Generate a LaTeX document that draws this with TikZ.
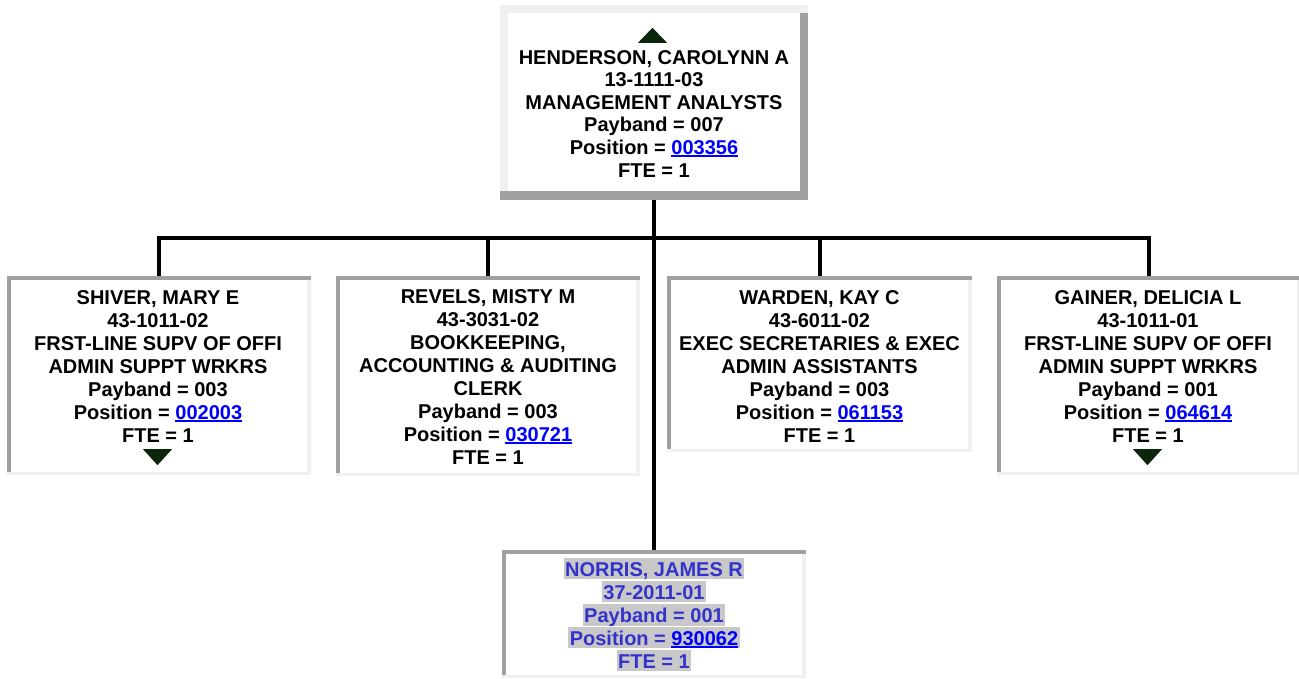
\documentclass[tikz,border=0pt]{standalone}
\usepackage{fontspec}
\setmainfont{Liberation Sans}
\definecolor{lg}{HTML}{F0F0F0}
\definecolor{dg}{HTML}{A0A0A0}
\definecolor{tri}{HTML}{0B260B}
\definecolor{lnkblue}{HTML}{0000FF}
\definecolor{hlgray}{HTML}{C8C8C8}
\definecolor{nblue}{HTML}{3333CC}
\newcommand\lnk[1]{\textcolor{lnkblue}{\setbox0\hbox{#1}\rlap{\rule[-2.6pt]{\wd0}{1.8pt}}\box0}}
\newcommand\hlline[1]{{\setlength\fboxsep{0pt}\colorbox{hlgray}{\rule[-3pt]{0pt}{21pt}\kern1.5pt#1\kern1.5pt}}}
\newcommand\downtri[1]{\fill[tri] ([xshift=-16pt,yshift=26pt]#1.south) -- ([xshift=13pt,yshift=26pt]#1.south) -- ([xshift=-1.5pt,yshift=10pt]#1.south) -- cycle;}
\begin{document}
\begin{tikzpicture}[x=1pt,y=1pt,
  txt/.style={anchor=north, inner sep=0pt, align=center, font=\fontsize{20}{23}\selectfont\bfseries},
  conn/.style={line width=4pt, black},
  raised/.style={rectangle, inner sep=0pt, fill=lg, path picture={
     \fill[dg] ([xshift=-8pt,yshift=-8pt]path picture bounding box.north east) rectangle (path picture bounding box.south east);
     \fill[dg] (path picture bounding box.south west) rectangle ([yshift=9pt]path picture bounding box.south east);
     \fill[white] ([xshift=8pt,yshift=-8pt]path picture bounding box.north west) rectangle ([xshift=-8pt,yshift=9pt]path picture bounding box.south east);}},
  inset/.style={rectangle, inner sep=0pt, fill=lg, path picture={
     \fill[dg] (path picture bounding box.north west) rectangle ([yshift=-4pt]path picture bounding box.north east);
     \fill[dg] (path picture bounding box.north west) rectangle ([xshift=4pt,yshift=3pt]path picture bounding box.south west);
     \fill[white] ([xshift=4pt,yshift=-4pt]path picture bounding box.north west) rectangle ([xshift=-4pt,yshift=3pt]path picture bounding box.south east);}}
]
\useasboundingbox (0,0) rectangle (1299,-679);
\fill[white] (0,0) rectangle (1299,-679);

% boxes
\node[raised, minimum width=308pt, minimum height=195pt] (top) at (654,-102.5) {};
\node[inset, minimum width=304pt, minimum height=199pt] (b1) at (159,-375.5) {};
\node[inset, minimum width=304pt, minimum height=200pt] (b2) at (488,-376) {};
\node[inset, minimum width=305pt, minimum height=176pt] (b3) at (819.5,-364) {};
\node[inset, minimum width=304pt, minimum height=199pt] (b4) at (1149,-375.5) {};
\node[inset, minimum width=304pt, minimum height=128pt] (b5) at (654,-614) {};

% connectors
\coordinate (bus) at (654,-238);
\draw[conn] (top.south) -- (b5.north);
\draw[conn] (b1.north) -- (b1.north |- bus) -- (b4.north |- bus) -- (b4.north);
\draw[conn] (b2.north) -- (b2.north |- bus);
\draw[conn] (b3.north) -- (b3.north |- bus);

% texts
\node[txt, font=\fontsize{20}{22.6}\selectfont\bfseries] (t0) at (654,-50) {HENDERSON, CAROLYNN A\\13-1111-03\\MANAGEMENT ANALYSTS\\Payband = 007\\Position = \lnk{003356}\\FTE = 1};
\node[txt] (t1) at (158,-290) {SHIVER, MARY E\\43-1011-02\\FRST-LINE SUPV OF OFFI\\ADMIN SUPPT WRKRS\\Payband = 003\\Position = \lnk{002003}\\FTE = 1};
\node[txt] (t2) at (488,-289) {REVELS, MISTY M\\43-3031-02\\BOOKKEEPING,\\ACCOUNTING \& AUDITING\\CLERK\\Payband = 003\\Position = \lnk{030721}\\FTE = 1};
\node[txt] (t3) at (819.5,-290) {WARDEN, KAY C\\43-6011-02\\EXEC SECRETARIES \& EXEC\\ADMIN ASSISTANTS\\Payband = 003\\Position = \lnk{061153}\\FTE = 1};
\node[txt] (t4) at (1148,-290) {GAINER, DELICIA L\\43-1011-01\\FRST-LINE SUPV OF OFFI\\ADMIN SUPPT WRKRS\\Payband = 001\\Position = \lnk{064614}\\FTE = 1};
\node[txt, text=nblue] (t5) at (654,-558) {\hlline{NORRIS, JAMES R}\\\hlline{37-2011-01}\\\hlline{Payband = 001}\\\hlline{Position = \lnk{930062}}\\\hlline{FTE = 1}};

% expand/collapse triangles
\fill[tri] ([xshift=-16pt,yshift=-38pt]top.north) -- ([xshift=13pt,yshift=-38pt]top.north) -- ([xshift=-1.5pt,yshift=-23pt]top.north) -- cycle;
\downtri{b1}
\downtri{b4}
\end{tikzpicture}
\end{document}
